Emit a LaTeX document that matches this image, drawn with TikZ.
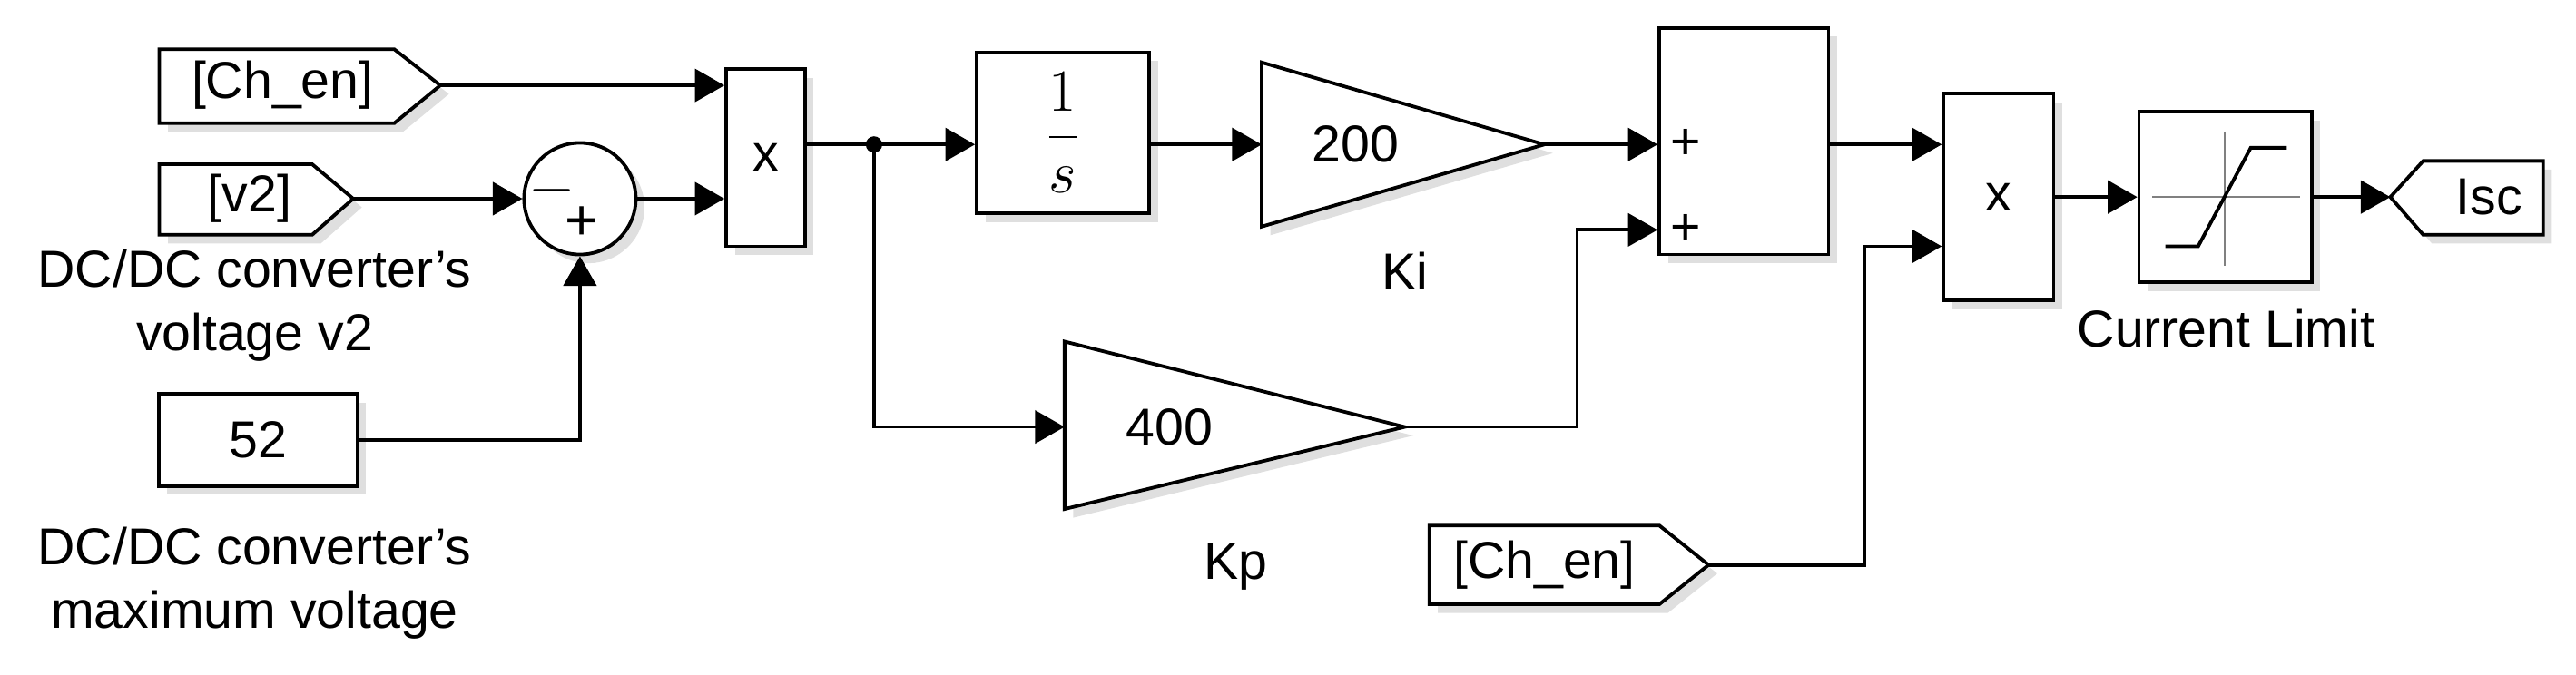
\documentclass[tikz,border=0pt]{standalone}
\usepackage{fontspec}
\setmainfont{Liberation Sans}
\usetikzlibrary{arrows.meta,shadows}
\begin{document}
\begin{tikzpicture}[x=0.02cm,y=-0.02cm,
  blk/.style={draw,line width=1.2pt,fill=white,inner sep=0pt,drop shadow={opacity=0.25,shadow xshift=3pt,shadow yshift=-3pt}},
  sig/.style={line width=1.2pt,-{Triangle[length=0.36cm,width=0.4cm]}},
  wire/.style={line width=1.2pt},
  lbl/.style={font=\fontsize{18}{20}\selectfont,align=center,inner sep=0pt},
  txt/.style={font=\fontsize{18}{20}\selectfont,inner sep=0pt}]
\useasboundingbox (0,0) rectangle (1568,411);
% goto tags
\draw[blk] (97,30) -- (240,30) -- (268,52) -- (240,75) -- (97,75) -- cycle;
\coordinate (ch1) at (268,52);
\node[txt] (ch1t) at (172,52) {[Ch\_en]};
\draw[blk] (97,100) -- (190,100) -- (215,121) -- (190,143) -- (97,143) -- cycle;
\coordinate (v2) at (215,121);
\node[txt] (v2t) at (152,121) {[v2]};
\node[lbl] (l1) at (155,186) {DC/DC converter's\\[2pt]voltage v2};
% const
\node[blk,minimum width=121*0.02cm,minimum height=56*0.02cm,txt] (c52) at (157,268) {52};
\node[lbl] (l2) at (155,355) {DC/DC converter's\\[2pt]maximum voltage};
% sum1
\node[blk,circle,minimum size=68*0.02cm] (s1) at (353,121) {};
\node[txt,font=\fontsize{20}{20}\selectfont] (m) at (336,116) {$-$};
\node[txt,font=\fontsize{20}{20}\selectfont] (p) at (354,136) {+};
% product1
\node[blk,minimum width=48*0.02cm,minimum height=108*0.02cm,txt] (x1) at (466,96) {x};
% integrator
\node[blk,minimum width=105*0.02cm,minimum height=98*0.02cm] (int) at (647,81) {\fontsize{22}{24}\selectfont$\displaystyle\frac{1}{s}$};
% Ki gain
\draw[blk] (768,38) -- (940,88) -- (768,138) -- cycle;
\coordinate (kiin) at (768,88); \coordinate (kiout) at (940,88);
\node[txt] (ki) at (825,88) {200};
\node[txt] (kil) at (855,165) {Ki};
% Kp gain
\draw[blk] (648,208) -- (855,260) -- (648,310) -- cycle;
\coordinate (kpin) at (648,260); \coordinate (kpout) at (855,260);
\node[txt] (kp) at (712,260) {400};
\node[txt] (kpl) at (752,345) {Kp};
% sum2
\node[blk,minimum width=103*0.02cm,minimum height=138*0.02cm] (s2) at (1061.5,86) {};
\node[txt] (s2a) at (1026,88) {+};
\node[txt] (s2b) at (1026,140) {+};
% product2
\node[blk,minimum width=67*0.02cm,minimum height=126*0.02cm,txt] (x2) at (1216.5,120) {x};
% tag2
\draw[blk] (870,320) -- (1010,320) -- (1040,344) -- (1010,368) -- (870,368) -- cycle;
\coordinate (ch2) at (1040,344);
\node[txt] (ch2t) at (940,344) {[Ch\_en]};
% saturation
\node[blk,minimum width=105*0.02cm,minimum height=104*0.02cm] (sat) at (1354.5,120) {};
\draw[gray,line width=0.6pt] (1310,120) -- (1400,120) (1354,80) -- (1354,162);
\draw[line width=1.2pt] (1318,150) -- (1338,150) -- (1370,90) -- (1392,90);
\node[txt] (satl) at (1355,200) {Current Limit};
% from tag Isc
\draw[blk] (1455,120) -- (1475,98) -- (1548,98) -- (1548,143) -- (1475,143) -- cycle;
\coordinate (isc) at (1455,120);
\node[txt] (isct) at (1515,120) {Isc};
% connections
\draw[sig] (ch1) -- (x1.west |- ch1);
\draw[sig] (v2) -- (s1.west);
\draw[sig] (s1.east) -- (x1.west |- s1.east);
\draw[sig] (c52.east) -| (s1.south);
\draw[sig] (x1.east |- 0,88) -- (int.west |- 0,88);
\coordinate (dot) at (532,88);
\fill (dot) circle (5);
\draw[sig] (dot) |- (kpin);
\draw[sig] (int.east |- 0,88) -- (kiin);
\draw[sig] (kiout) -- (s2.west |- kiout);
\coordinate (kpb) at (960,260);
\draw[sig] (kpout) -- (kpb) |- (s2.west |- 0,140);
\draw[sig] (s2.east |- 0,88) -- (x2.west |- 0,88);
\coordinate (chb) at (1135,344);
\draw[sig] (ch2) -- (chb) |- (x2.west |- 0,150);
\draw[sig] (x2.east) -- (sat.west);
\draw[sig] (sat.east) -- (isc);
\end{tikzpicture}
\end{document}
